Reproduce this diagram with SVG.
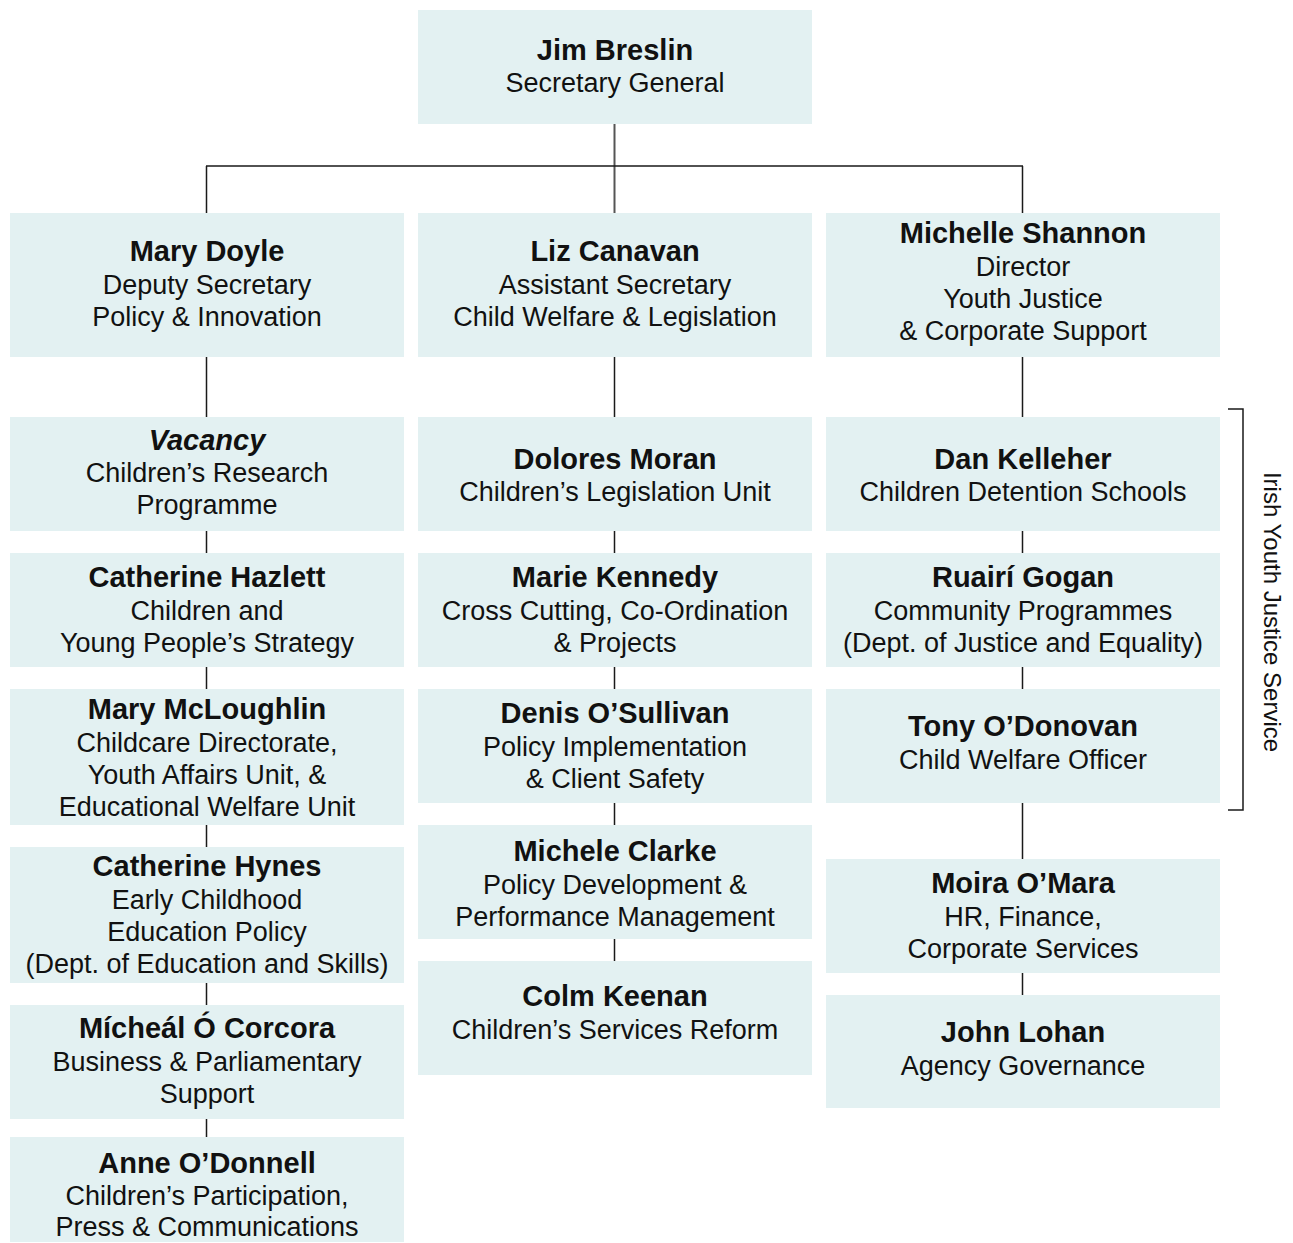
<svg xmlns="http://www.w3.org/2000/svg" width="1293" height="1243" viewBox="0 0 1293 1243">
<style>
.box{fill:#e3f1f2}
text{font-family:"Liberation Sans",Arial,sans-serif;fill:#111;text-anchor:middle}
.n{font-size:29px;font-weight:bold}
.t{font-size:27px}
.ni{font-size:29px;font-weight:bold;font-style:italic}
.c{stroke:#1a1a1a;stroke-width:1.5;fill:none}
.g{stroke:#555;stroke-width:2;fill:none}
</style>
<rect width="1293" height="1243" fill="#fff"/>
<g id="connectors">
<path class="g" d="M614.5 124V213"/>
<path class="c" d="M206 166H1023M206.5 166V213M1022.5 166V213"/>
<path class="c" d="M206.5 357V417M206.5 531V553M206.5 667V689M206.5 825V847M206.5 983V1005M206.5 1119V1137"/>
<path class="c" d="M614.5 357V417M614.5 531V553M614.5 667V689M614.5 803V825M614.5 939V961"/>
<path class="c" d="M1022.5 357V417M1022.5 531V553M1022.5 667V689M1022.5 803V859M1022.5 973V995"/>
</g>
<g id="bracket">
<path class="c" d="M1228 409H1243V810H1228"/>
<text class="t" style="font-size:24px" transform="translate(1264 612) rotate(90)">Irish Youth Justice Service</text>
</g>
<g id="n-breslin"><rect class="box" x="418" y="10" width="394" height="114"/><text class="n" x="615" y="60">Jim Breslin</text><text class="t" x="615" y="92">Secretary General</text></g>
<g id="n-doyle"><rect class="box" x="10" y="213" width="394" height="144"/><text class="n" x="207" y="261">Mary Doyle</text><text class="t" x="207" y="294">Deputy Secretary</text><text class="t" x="207" y="326">Policy &amp; Innovation</text></g>
<g id="n-canavan"><rect class="box" x="418" y="213" width="394" height="144"/><text class="n" x="615" y="261">Liz Canavan</text><text class="t" x="615" y="294">Assistant Secretary</text><text class="t" x="615" y="326">Child Welfare &amp; Legislation</text></g>
<g id="n-shannon"><rect class="box" x="826" y="213" width="394" height="144"/><text class="n" x="1023" y="243">Michelle Shannon</text><text class="t" x="1023" y="276">Director</text><text class="t" x="1023" y="308">Youth Justice</text><text class="t" x="1023" y="340">&amp; Corporate Support</text></g>
<g id="n-vacancy"><rect class="box" x="10" y="417" width="394" height="114"/><text class="ni" x="207" y="450">Vacancy</text><text class="t" x="207" y="482">Children’s Research</text><text class="t" x="207" y="514">Programme</text></g>
<g id="n-hazlett"><rect class="box" x="10" y="553" width="394" height="114"/><text class="n" x="207" y="587">Catherine Hazlett</text><text class="t" x="207" y="620">Children and</text><text class="t" x="207" y="652">Young People’s Strategy</text></g>
<g id="n-mcloughlin"><rect class="box" x="10" y="689" width="394" height="136"/><text class="n" x="207" y="719">Mary McLoughlin</text><text class="t" x="207" y="752">Childcare Directorate,</text><text class="t" x="207" y="784">Youth Affairs Unit, &amp;</text><text class="t" x="207" y="816">Educational Welfare Unit</text></g>
<g id="n-hynes"><rect class="box" x="10" y="847" width="394" height="136"/><text class="n" x="207" y="876">Catherine Hynes</text><text class="t" x="207" y="909">Early Childhood</text><text class="t" x="207" y="941">Education Policy</text><text class="t" x="207" y="973">(Dept. of Education and Skills)</text></g>
<g id="n-corcora"><rect class="box" x="10" y="1005" width="394" height="114"/><text class="n" x="207" y="1038">Mícheál Ó Corcora</text><text class="t" x="207" y="1071">Business &amp; Parliamentary</text><text class="t" x="207" y="1103">Support</text></g>
<g id="n-odonnell"><rect class="box" x="10" y="1137" width="394" height="105"/><text class="n" x="207" y="1173">Anne O’Donnell</text><text class="t" x="207" y="1205">Children’s Participation,</text><text class="t" x="207" y="1236">Press &amp; Communications</text></g>
<g id="n-moran"><rect class="box" x="418" y="417" width="394" height="114"/><text class="n" x="615" y="469">Dolores Moran</text><text class="t" x="615" y="501">Children’s Legislation Unit</text></g>
<g id="n-kennedy"><rect class="box" x="418" y="553" width="394" height="114"/><text class="n" x="615" y="587">Marie Kennedy</text><text class="t" x="615" y="620">Cross Cutting, Co-Ordination</text><text class="t" x="615" y="652">&amp; Projects</text></g>
<g id="n-osullivan"><rect class="box" x="418" y="689" width="394" height="114"/><text class="n" x="615" y="723">Denis O’Sullivan</text><text class="t" x="615" y="756">Policy Implementation</text><text class="t" x="615" y="788">&amp; Client Safety</text></g>
<g id="n-clarke"><rect class="box" x="418" y="825" width="394" height="114"/><text class="n" x="615" y="861">Michele Clarke</text><text class="t" x="615" y="894">Policy Development &amp;</text><text class="t" x="615" y="926">Performance Management</text></g>
<g id="n-keenan"><rect class="box" x="418" y="961" width="394" height="114"/><text class="n" x="615" y="1006">Colm Keenan</text><text class="t" x="615" y="1039">Children’s Services Reform</text></g>
<g id="n-kelleher"><rect class="box" x="826" y="417" width="394" height="114"/><text class="n" x="1023" y="469">Dan Kelleher</text><text class="t" x="1023" y="501">Children Detention Schools</text></g>
<g id="n-gogan"><rect class="box" x="826" y="553" width="394" height="114"/><text class="n" x="1023" y="587">Ruairí Gogan</text><text class="t" x="1023" y="620">Community Programmes</text><text class="t" x="1023" y="652">(Dept. of Justice and Equality)</text></g>
<g id="n-odonovan"><rect class="box" x="826" y="689" width="394" height="114"/><text class="n" x="1023" y="736">Tony O’Donovan</text><text class="t" x="1023" y="769">Child Welfare Officer</text></g>
<g id="n-omara"><rect class="box" x="826" y="859" width="394" height="114"/><text class="n" x="1023" y="893">Moira O’Mara</text><text class="t" x="1023" y="926">HR, Finance,</text><text class="t" x="1023" y="958">Corporate Services</text></g>
<g id="n-lohan"><rect class="box" x="826" y="995" width="394" height="113"/><text class="n" x="1023" y="1042">John Lohan</text><text class="t" x="1023" y="1075">Agency Governance</text></g>
</svg>
